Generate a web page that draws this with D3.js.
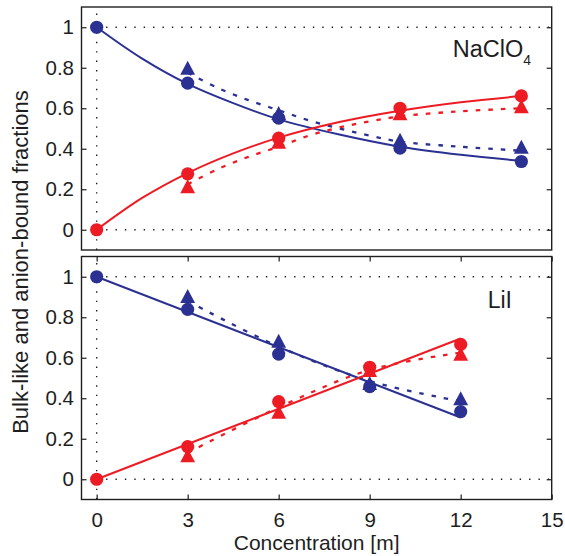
<!DOCTYPE html>
<html><head><meta charset="utf-8">
<script src="https://cdn.jsdelivr.net/npm/d3@7"></script>
<style>body{margin:0;background:#fff} text{font-family:"Liberation Sans",Arial,Helvetica,sans-serif}</style>
</head><body><svg id="c" width="565" height="556"></svg>
<script>
// ---- data ----
const xTicks=[0,3,6,9,12,15];
const yTicks=[0,0.2,0.4,0.6,0.8,1];
// NaClO4 panel
const naX=[0,3,6,10,14];
const naBulkCircles=[1,0.724,0.551,0.403,0.337];
const naAnionCircles=[0,0.276,0.452,0.600,0.661];
const naTriX=[3,6,10,14];
const naBulkTri=[0.80,0.576,0.445,0.41];
const naAnionTri=[0.215,0.435,0.575,0.61];
const naFitX=[0,1.5,3,4.5,6,8,10,12,14];
const naBulkFit=[1,0.845,0.72,0.625,0.545,0.47,0.41,0.37,0.34];
const naAnionFit=[0,0.157,0.28,0.377,0.455,0.532,0.588,0.63,0.66];
const naDashX=[3,4,5,6,7,8,9,10,12,14];
const naBulkDash=[0.775,0.70,0.64,0.59,0.54,0.50,0.465,0.435,0.41,0.39];
const naAnionDash=[0.225,0.30,0.36,0.41,0.465,0.505,0.535,0.56,0.585,0.60];
// LiI panel
const liX=[0,3,6,9,12];
const liBulkCircles=[1,0.839,0.618,0.457,0.334];
const liAnionCircles=[0,0.161,0.383,0.553,0.666];
const liTriX=[3,6,9,12];
const liBulkTri=[0.905,0.684,0.475,0.40];
const liAnionTri=[0.118,0.333,0.54,0.62];
const liFitX=[0,12];
const liBulkFit=[1,0.305];
const liAnionFit=[0,0.695];
const liDashX=[3,6,9,12];
const liBulkDash=[0.88,0.655,0.485,0.385];
const liAnionDash=[0.13,0.355,0.54,0.625];

const BLUE="#2b3192", RED="#ed1c24", INK="#1e1e1e";
const svg=d3.select("#c");
const X0=81.5, X1=551.7;
const x=d3.scaleLinear().domain([-0.5,15]).range([X0,X1]);

const tri={draw(ctx,s){ctx.moveTo(0,-s*0.5);ctx.lineTo(s*0.53,s*0.5);ctx.lineTo(-s*0.53,s*0.5);ctx.closePath();}};
const zip=(xs,ys)=>xs.map((v,i)=>[v,ys[i]]);

function panel(cfg){
  const y=d3.scaleLinear().domain([-0.1,1.1]).range([cfg.y1,cfg.y0]);
  const g=svg.append("g");
  // grid
  const grid=g.append("g").attr("stroke",INK).attr("stroke-width",1.4).attr("stroke-dasharray","1.4,8");
  [0,1].forEach(v=>grid.append("line").attr("x1",x(0)).attr("x2",X1).attr("y1",y(v)).attr("y2",y(v)));
  grid.append("line").attr("x1",x(0)).attr("x2",x(0)).attr("y1",cfg.y1).attr("y2",cfg.y0);
  // axes
  const fmt=d3.format("~g");
  g.append("g").attr("transform",`translate(${X0},0)`)
    .call(d3.axisLeft(y).tickValues(yTicks).tickSizeInner(-5).tickSizeOuter(0).tickPadding(7.5).tickFormat(fmt));
  g.append("g").attr("transform",`translate(${X1},0)`)
    .call(d3.axisRight(y).tickValues(yTicks).tickSizeInner(-5).tickSizeOuter(0).tickFormat(""));
  if(cfg.xlabels){
    g.append("g").attr("transform",`translate(0,${cfg.y1})`)
      .call(d3.axisBottom(x).tickValues(xTicks).tickSizeInner(-5).tickSizeOuter(0).tickPadding(12.5).tickFormat(fmt));
    g.append("g").attr("transform",`translate(0,${cfg.y0})`)
      .call(d3.axisTop(x).tickValues(xTicks).tickSizeInner(-5).tickSizeOuter(0).tickFormat(""));
  }
  g.selectAll(".domain").remove();
  g.selectAll(".tick line").attr("stroke",INK).attr("stroke-width",1.2);
  g.selectAll(".tick text").attr("font-size",20.5).attr("fill",INK).attr("font-family","Liberation Sans, Arial, sans-serif");
  // series
  const line=d3.line().x(d=>x(d[0])).y(d=>y(d[1])).curve(d3.curveCatmullRom.alpha(0.5));
  cfg.series.forEach(s=>{
    g.append("path").datum(zip(s.dashX,s.dash)).attr("d",line).attr("fill","none")
      .attr("stroke",s.color).attr("stroke-width",2.3).attr("stroke-dasharray","4.5,8");
    g.append("g").selectAll("path").data(zip(s.triX,s.tri)).join("path")
      .attr("transform",d=>`translate(${x(d[0])},${y(d[1])})`)
      .attr("d",d3.symbol(tri,14)).attr("fill",s.color);
    g.append("path").datum(zip(s.fitX,s.fit)).attr("d",line).attr("fill","none")
      .attr("stroke",s.color).attr("stroke-width",2);
    g.append("g").selectAll("circle").data(zip(s.cx,s.c)).join("circle")
      .attr("cx",d=>x(d[0])).attr("cy",d=>y(d[1])).attr("r",6.6).attr("fill",s.color);
  });
  // border
  g.append("rect").attr("x",X0).attr("y",cfg.y0).attr("width",X1-X0).attr("height",cfg.y1-cfg.y0)
    .attr("fill","none").attr("stroke",INK).attr("stroke-width",1.4);
  return g;
}

const topPanel=panel({y0:7,y1:250,xlabels:false,series:[
  {color:BLUE,dashX:naDashX,dash:naBulkDash,triX:naTriX,tri:naBulkTri,fitX:naFitX,fit:naBulkFit,cx:naX,c:naBulkCircles},
  {color:RED,dashX:naDashX,dash:naAnionDash,triX:naTriX,tri:naAnionTri,fitX:naFitX,fit:naAnionFit,cx:naX,c:naAnionCircles}
]});
const t1=topPanel.append("text").attr("x",531).attr("y",57).attr("text-anchor","end").attr("font-size",23.5).attr("fill",INK);
t1.append("tspan").text("NaClO");
t1.append("tspan").attr("font-size",14).attr("dy",8).text("4");

const botPanel=panel({y0:256.5,y1:499.5,xlabels:true,series:[
  {color:BLUE,dashX:liDashX,dash:liBulkDash,triX:liTriX,tri:liBulkTri,fitX:liFitX,fit:liBulkFit,cx:liX,c:liBulkCircles},
  {color:RED,dashX:liDashX,dash:liAnionDash,triX:liTriX,tri:liAnionTri,fitX:liFitX,fit:liAnionFit,cx:liX,c:liAnionCircles}
]});
botPanel.append("text").attr("x",512).attr("y",308).attr("text-anchor","end").attr("font-size",23).attr("fill",INK).text("LiI");

svg.append("text").attr("x",(X0+X1)/2).attr("y",550).attr("text-anchor","middle").attr("font-size",21).attr("fill",INK).text("Concentration [m]");
svg.append("text").attr("transform","translate(28,262) rotate(-90)").attr("text-anchor","middle").attr("font-size",22).attr("fill",INK).text("Bulk-like and anion-bound fractions");
</script></body></html>
